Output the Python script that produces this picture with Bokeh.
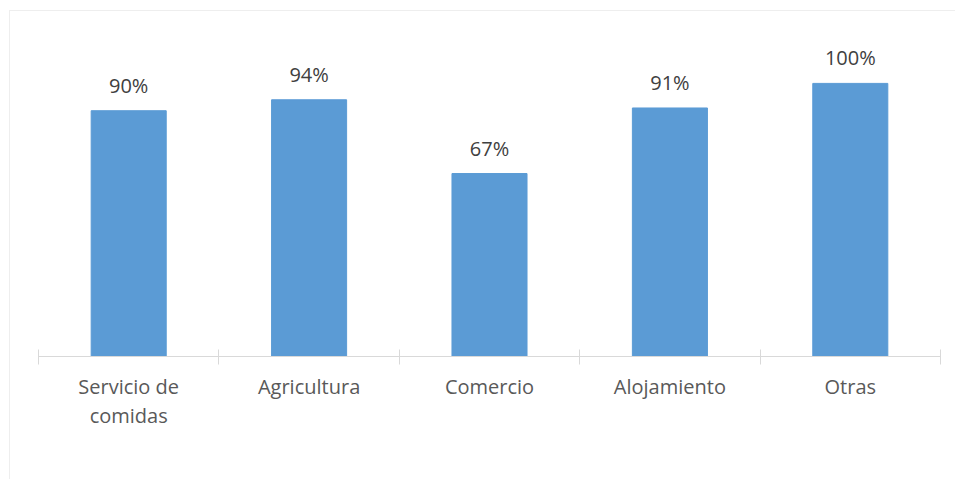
from bokeh.plotting import figure
from bokeh.models import ColumnDataSource, FixedTicker, CustomJSTickFormatter, Range1d
from bokeh.core.properties import value
from bokeh.embed import file_html
from bokeh.resources import INLINE

categories = ["Servicio de\ncomidas", "Agricultura", "Comercio", "Alojamiento", "Otras"]
values = [90, 94, 67, 91, 100]
value_labels = ["90%", "94%", "67%", "91%", "100%"]

xs = [i + 0.5 for i in range(len(categories))]
src = ColumnDataSource(dict(x=xs, top=values, lab=value_labels))

p = figure(width=955, height=479, output_backend="svg", toolbar_location=None,
           x_range=Range1d(0, len(categories)), y_range=Range1d(0, 120.1),
           min_border_left=38, min_border_right=15, min_border_top=28, min_border_bottom=123)
p.border_fill_color = None
p.background_fill_color = None
p.styles = {
    "background": "linear-gradient(#eeeeee, #eeeeee) 9px 10px / 100% 1px no-repeat, "
                  "linear-gradient(#eeeeee, #eeeeee) 9px 10px / 1px 100% no-repeat, #ffffff"
}
p.outline_line_color = None
p.xgrid.visible = False
p.ygrid.visible = False
p.yaxis.visible = False

p.vbar(x="x", top="top", width=0.416, source=src, color="#5B9BD5")
p.text(x="x", y="top", text="lab", source=src, text_align="center", text_baseline="bottom",
       y_offset=-12, text_font=value("Open Sans"), text_font_size="20px", text_color="#404040")

ax = p.xaxis[0]
ax.ticker = FixedTicker(ticks=xs, minor_ticks=list(range(len(categories) + 1)))
ax.formatter = CustomJSTickFormatter(args=dict(labels=categories),
                                     code="return labels[Math.floor(tick)];")
ax.axis_line_color = "#d9d9d9"
ax.axis_line_width = 1
ax.major_tick_line_color = None
ax.minor_tick_line_color = "#d9d9d9"
ax.minor_tick_in = 7
ax.minor_tick_out = 8
ax.major_label_standoff = 8
ax.major_label_text_font = "Open Sans"
ax.major_label_text_font_size = "20px"
ax.major_label_text_line_height = 1.1
ax.major_label_text_color = "#595959"

open("out.html", "w").write(file_html(p, INLINE))
